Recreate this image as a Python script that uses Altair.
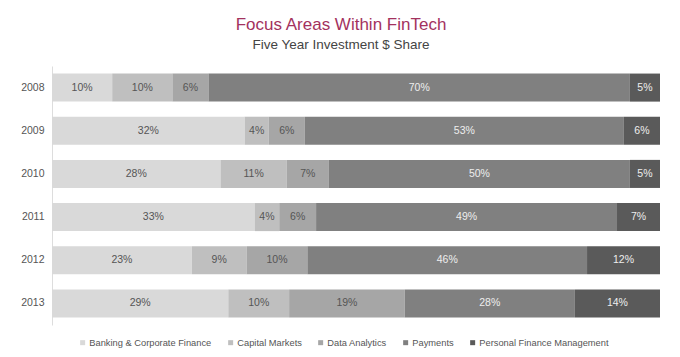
import altair as alt
import pandas as pd

years = ["2008", "2009", "2010", "2011", "2012", "2013"]
categories = ["Banking & Corporate Finance", "Capital Markets", "Data Analytics",
              "Payments", "Personal Finance Management"]
banking = [10, 32, 28, 33, 23, 29]
capital = [10, 4, 11, 4, 9, 10]
data_an = [6, 6, 7, 6, 10, 19]
payments = [70, 53, 50, 49, 46, 28]
pfm = [5, 6, 5, 7, 12, 14]
colors = ["#d9d9d9", "#bfbfbf", "#a6a6a6", "#808080", "#5a5a5a"]
text_colors = ["#555555", "#555555", "#555555", "#eeeeee", "#eeeeee"]

series = [banking, capital, data_an, payments, pfm]
rows = []
for ci, (cat, vals) in enumerate(zip(categories, series)):
    for yi, y in enumerate(years):
        rows.append({"year": y, "category": cat, "order": ci, "value": vals[yi],
                     "tcolor": text_colors[ci]})
df = pd.DataFrame(rows)

base = alt.Chart(df).transform_joinaggregate(
    total="sum(value)", groupby=["year"]
).transform_calculate(
    pct="datum.value / datum.total"
).transform_window(
    cum="sum(pct)", groupby=["year"], sort=[alt.SortField("order")], frame=[None, 0]
).transform_calculate(
    start="datum.cum - datum.pct",
    mid="datum.cum - datum.pct / 2",
    label="datum.value + '%'"
)

yenc = alt.Y("year:N", sort=years, title=None,
             scale=alt.Scale(paddingInner=0.35, paddingOuter=0.175),
             axis=alt.Axis(ticks=False, domainColor="#dddddd", labelColor="#555555",
                           labelFontSize=10.5, labelPadding=8, labelFont="Liberation Sans"))

bars = base.mark_bar().encode(
    x=alt.X("start:Q", scale=alt.Scale(domain=[0, 1], nice=False), axis=None),
    x2="cum:Q",
    y=yenc,
    color=alt.Color("category:N", sort=categories,
                    scale=alt.Scale(domain=categories, range=colors),
                    legend=alt.Legend(title=None, orient="none", direction="horizontal",
                                      legendX=26, legendY=272, symbolType="square",
                                      symbolSize=25, symbolStrokeWidth=0, padding=0,
                                      labelFontSize=9.3, labelColor="#555555",
                                      labelFont="Liberation Sans", columnPadding=14,
                                      symbolOffset=0, labelOffset=2)),
)

texts = base.mark_text(fontSize=10.5, font="Liberation Sans").encode(
    x=alt.X("mid:Q", scale=alt.Scale(domain=[0, 1], nice=False), axis=None),
    y=alt.Y("year:N", sort=years),
    text="label:N",
    color=alt.Color("tcolor:N", scale=None),
)

chart = alt.layer(bars, texts).properties(
    width=608, height=259,
    title=alt.TitleParams(
        "Focus Areas Within FinTech",
        subtitle="Five Year Investment $ Share",
        font="Liberation Sans", fontSize=17, fontWeight="normal", color="#a3325e",
        subtitleFont="Liberation Sans", subtitleFontSize=13.5, subtitleColor="#444444",
        anchor="middle", dx=-15, offset=14, subtitlePadding=4
    ),
    autosize=alt.AutoSizeParams(type="none"),
    padding={"left": 44, "top": 58, "right": 12, "bottom": 30},
).configure_view(stroke=None)

chart.save("out.html", embed_options={"renderer": "svg", "actions": False})
